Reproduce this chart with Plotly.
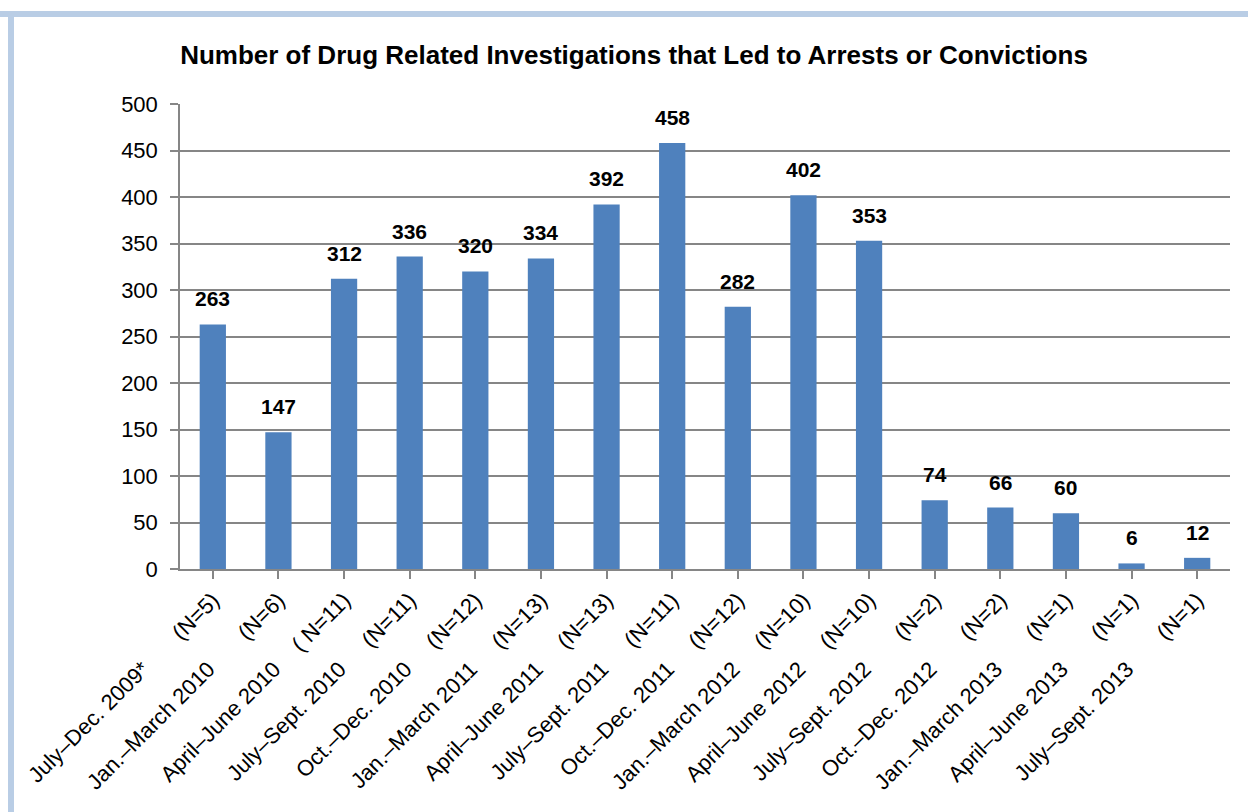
import plotly.graph_objects as go

periods = ["July–Dec. 2009*", "Jan.–March 2010", "April–June 2010", "July–Sept. 2010",
           "Oct.–Dec. 2010", "Jan.–March 2011", "April–June 2011", "July–Sept. 2011",
           "Oct.–Dec. 2011", "Jan.–March 2012", "April–June 2012", "July–Sept. 2012",
           "Oct.–Dec. 2012", "Jan.–March 2013", "April–June 2013", "July–Sept. 2013"]
n_labels = ["(N=5)", "(N=6)", "( N=11)", "(N=11)", "(N=12)", "(N=13)", "(N=13)", "(N=11)",
            "(N=12)", "(N=10)", "(N=10)", "(N=2)", "(N=2)", "(N=1)", "(N=1)", "(N=1)"]
values = [263, 147, 312, 336, 320, 334, 392, 458, 282, 402, 353, 74, 66, 60, 6, 12]
y_ticks = [0, 50, 100, 150, 200, 250, 300, 350, 400, 450, 500]

FONT = "Liberation Sans Narrow, Arial Narrow, Liberation Sans, Arial, sans-serif"
idx = list(range(len(periods)))

fig = go.Figure()
fig.add_trace(go.Bar(x=idx, y=values, marker=dict(color="#4F81BD", line=dict(width=0)),
                     width=0.4, hoverinfo="skip"))
fig.add_trace(go.Scatter(x=idx, y=[None]*len(idx), xaxis="x2", showlegend=False, hoverinfo="skip"))

for i, v in enumerate(values):
    fig.add_annotation(x=i, y=v, text=f"<b>{v}</b>", showarrow=False, yanchor="bottom",
                       yshift=12, font=dict(family=FONT, size=21, color="black"))

fig.update_layout(
    width=1248, height=812,
    margin=dict(l=180, r=18, t=104, b=243, autoexpand=False),
    paper_bgcolor="white", plot_bgcolor="white",
    showlegend=False,
    title=dict(text="<b>Number of Drug Related Investigations that Led to Arrests or Convictions</b>",
               x=634/1248, xanchor="center", y=0.933, yanchor="middle",
               font=dict(family=FONT, size=26, color="black")),
    xaxis=dict(range=[-0.5, 15.5], tickmode="array", tickvals=idx, ticktext=n_labels,
               tickangle=-45, ticks="outside", ticklen=8, tickcolor="#868686", tickwidth=1.5,
               showline=True, linecolor="#868686", linewidth=1.5, showgrid=False,
               tickfont=dict(family=FONT, size=22, color="black"), zeroline=False,
               tickson="boundaries", fixedrange=True, automargin=False),
    xaxis2=dict(range=[-0.5, 15.5], overlaying="x", side="bottom", tickmode="array",
                tickvals=idx, ticktext=periods, tickangle=-45, ticks="", showline=False,
                showgrid=False, tickfont=dict(family=FONT, size=22, color="black"),
                ticklabelstandoff=82, ticklabelshift=-70, zeroline=False, automargin=False),
    yaxis=dict(range=[0, 500], tickmode="array", tickvals=y_ticks, ticks="outside", ticklen=8,
               tickcolor="#868686", tickwidth=1.5, showline=True, linecolor="#868686",
               linewidth=1.5, showgrid=True, gridcolor="#868686", gridwidth=1.5,
               zeroline=False, ticklabelstandoff=8, automargin=False,
               tickfont=dict(family=FONT, size=22, color="black")),
)
# light blue frame (top and left edges)
fig.add_shape(type="line", xref="paper", yref="paper", x0=-180/1050, x1=(1248-180)/1050,
              y0=1 + (104-14)/465, y1=1 + (104-14)/465, line=dict(color="#B9CDE5", width=6))
fig.add_shape(type="line", xref="paper", yref="paper", x0=-(180-11)/1050, x1=-(180-11)/1050,
              y0=1 + (104-14)/465, y1=-243/465, line=dict(color="#B9CDE5", width=6))

fig.write_html("out.html")
